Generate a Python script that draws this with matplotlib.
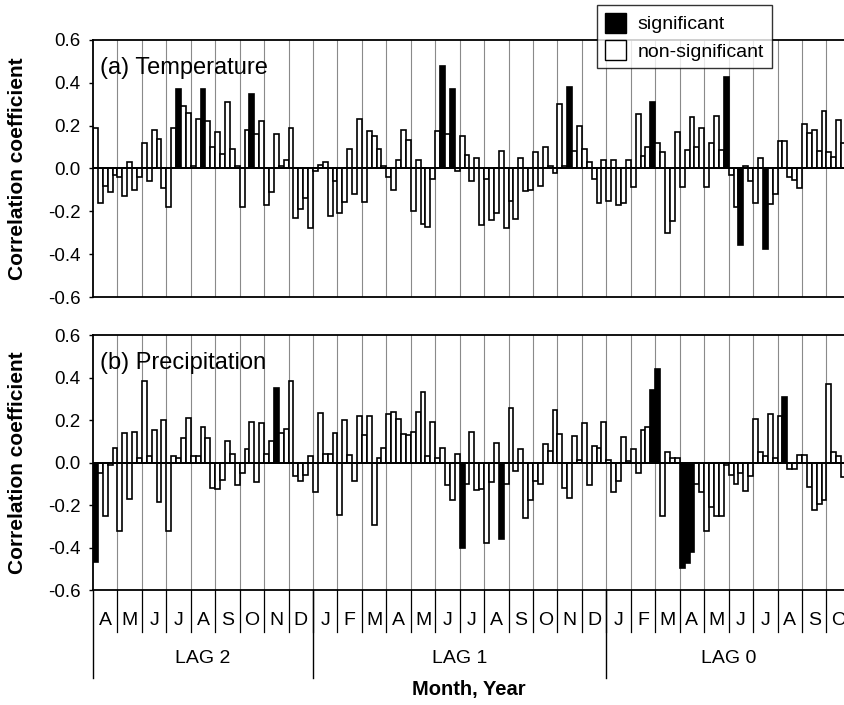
import numpy as np
import matplotlib
matplotlib.use("Agg")
import matplotlib.pyplot as plt
from matplotlib.patches import Patch

plt.rcParams['font.family'] = ['Liberation Sans', 'DejaVu Sans']

bars_per_month = 5

lag2_months = ['A', 'M', 'J', 'J', 'A', 'S', 'O', 'N', 'D']
lag1_months = ['J', 'F', 'M', 'A', 'M', 'J', 'J', 'A', 'S', 'O', 'N', 'D']
lag0_months = ['J', 'F', 'M', 'A', 'M', 'J', 'J', 'A', 'S', 'O']
lag_labels = ['LAG 2', 'LAG 1', 'LAG 0']

# correlation coefficients, 5 per month, starting April of lag 2
temp_r = [
    0.19, -0.16, -0.08, -0.11, -0.03,
    -0.04, -0.13, 0.03, -0.10, -0.04,
    0.12, -0.06, 0.18, 0.14, -0.09,
    -0.18, 0.19, 0.37, 0.29, 0.26,
    0.01, 0.23, 0.37, 0.22, 0.10,
    0.17, 0.07, 0.31, 0.09, 0.01,
    -0.18, 0.18, 0.35, 0.16, 0.22,
    -0.17, -0.11, 0.16, 0.01, 0.04,
    0.19, -0.23, -0.19, -0.14, -0.28,
    -0.01, 0.015, 0.03, -0.22, -0.06,
    -0.21, -0.155, 0.09, -0.12, 0.23,
    -0.155, 0.175, 0.15, 0.09, 0.01,
    -0.04, -0.10, 0.04, 0.18, 0.135,
    -0.20, 0.04, -0.26, -0.275, -0.05,
    0.175, 0.48, 0.16, 0.37, -0.01,
    0.15, 0.065, -0.06, 0.05, -0.265,
    -0.05, -0.24, -0.21, 0.08, -0.28,
    -0.15, -0.235, 0.05, -0.105, -0.10,
    0.075, -0.08, 0.10, 0.01, -0.02,
    0.30, 0.01, 0.38, 0.08, 0.20,
    0.09, 0.03, -0.05, -0.16, 0.04,
    -0.15, 0.04, -0.17, -0.16, 0.04,
    -0.085, 0.255, 0.06, 0.10, 0.31,
    0.12, 0.075, -0.30, -0.245, 0.17,
    -0.085, 0.085, 0.24, 0.10, 0.19,
    -0.085, 0.12, 0.245, 0.085, 0.425,
    -0.03, -0.18, -0.355, 0.01, -0.06,
    -0.16, 0.05, -0.375, -0.165, -0.12,
    0.13, 0.13, -0.04, -0.055, -0.09,
    0.21, 0.165, 0.18, 0.08, 0.27,
    0.075, 0.055, 0.225, 0.12, 0.05,
]
temp_sig = [17, 22, 32, 71, 73, 97, 114, 129, 132, 137]

prec_r = [
    -0.47, -0.05, -0.25, -0.01, 0.07,
    -0.32, 0.14, -0.17, 0.145, 0.02,
    0.385, 0.03, 0.155, -0.185, 0.20,
    -0.32, 0.03, 0.02, 0.115, 0.21,
    0.03, 0.03, 0.165, 0.115, -0.12,
    -0.125, -0.08, 0.10, 0.04, -0.105,
    -0.05, 0.065, 0.19, -0.09, 0.185,
    0.04, 0.10, 0.35, 0.14, 0.16,
    0.385, -0.065, -0.085, -0.06, 0.03,
    -0.14, 0.235, 0.04, 0.04, 0.14,
    -0.245, 0.20, 0.035, -0.085, 0.22,
    0.13, 0.22, -0.295, 0.02, 0.07,
    0.23, 0.24, 0.205, 0.135, 0.13,
    0.145, 0.24, 0.33, 0.03, 0.19,
    0.02, 0.07, -0.105, -0.175, 0.04,
    -0.40, -0.10, 0.145, -0.13, -0.125,
    -0.38, -0.09, 0.09, -0.36, -0.10,
    0.255, -0.04, 0.065, -0.26, -0.175,
    -0.085, -0.10, 0.085, 0.055, 0.245,
    0.135, -0.12, -0.165, 0.125, 0.01,
    0.185, -0.105, 0.08, 0.07, 0.19,
    0.01, -0.14, -0.085, 0.12, 0.005,
    0.065, -0.05, 0.155, 0.165, 0.34,
    0.44, -0.25, 0.05, 0.02, 0.02,
    -0.495, -0.475, -0.42, -0.10, -0.14,
    -0.32, -0.21, -0.25, -0.25, -0.01,
    -0.06, -0.10, -0.05, -0.135, -0.065,
    0.205, 0.05, 0.03, 0.23, 0.02,
    0.22, 0.31, -0.03, -0.03, 0.035,
    0.035, -0.115, -0.225, -0.195, -0.175,
    0.37, 0.05, 0.03, -0.07, 0.17,
]
prec_sig = [0, 37, 75, 83, 114, 115, 120, 121, 122, 141]

all_months = lag2_months + lag1_months + lag0_months
n_months = len(all_months)
x_right = 153.8

fig = plt.figure(figsize=(8.45, 7.05), dpi=100)
ax_a = fig.add_axes([0.110, 0.5787, 0.890, 0.3646])
ax_b = fig.add_axes([0.110, 0.1631, 0.890, 0.3617])


def draw_panel(ax, vals, sig, title):
    vals = np.array(vals)
    x = np.arange(len(vals)) + 0.5
    colors = ['white'] * len(vals)
    for i in sig:
        colors[i] = 'black'
    for m in range(1, n_months + 1):
        ax.axvline(m * bars_per_month, color='#8a8a8a', lw=0.8, zorder=0)
    ax.bar(x, vals, width=1.0, color=colors, edgecolor='black', linewidth=1.2, zorder=2)
    ax.axhline(0, color='black', lw=1.4, zorder=3)
    ax.set_xlim(0, x_right)
    ax.set_ylim(-0.6, 0.6)
    ticks = np.arange(-0.6, 0.61, 0.2)
    ax.set_yticks(ticks)
    ax.set_yticklabels(['%.1f' % v for v in ticks], fontsize=13.5)
    ax.set_xticks([])
    ax.tick_params(axis='y', direction='out', length=3, width=1, pad=6)
    for s in ['left', 'top', 'bottom']:
        ax.spines[s].set_linewidth(1.3)
    ax.spines['right'].set_visible(False)
    ax.set_ylabel('Correlation coefficient', fontsize=15, fontweight='bold')
    ax.yaxis.set_label_coords(-0.088, 0.5)
    ax.text(0.009, 0.89, title, transform=ax.transAxes, fontsize=17,
            va='center', ha='left', zorder=5)


draw_panel(ax_a, temp_r, temp_sig, '(a) Temperature')
draw_panel(ax_b, prec_r, prec_sig, '(b) Precipitation')

# month / lag annotation below the lower panel
trans = ax_b.get_xaxis_transform()
for m in range(1, n_months + 1):
    ax_b.plot([m * bars_per_month] * 2, [0, -0.165], color='black', lw=0.9,
              transform=trans, clip_on=False)
for m, lab in enumerate(all_months):
    ax_b.text((m + 0.5) * bars_per_month, -0.118, lab, transform=trans,
              ha='center', va='center', fontsize=14, clip_on=False)

groups = [lag2_months, lag1_months, lag0_months]
start = 0
for lab, g in zip(lag_labels, groups):
    ax_b.plot([start * bars_per_month] * 2, [0, -0.345], color='black', lw=1.0,
              transform=trans, clip_on=False)
    mid = (start + len(g) / 2) * bars_per_month
    ax_b.text(mid, -0.267, lab, transform=trans, ha='center', va='center',
              fontsize=14)
    start += len(g)

ax_b.text(0.5, -0.392, 'Month, Year', transform=ax_b.transAxes,
          ha='center', va='center', fontsize=14.5, fontweight='bold')

handles = [Patch(facecolor='black', edgecolor='black', label='significant'),
           Patch(facecolor='white', edgecolor='black', label='non-significant')]
leg = fig.legend(handles=handles, loc='upper left', bbox_to_anchor=(0.7065, 0.993),
                 fontsize=14, frameon=True, fancybox=False, borderpad=0.4,
                 borderaxespad=0, handlelength=1.1, handleheight=1.2,
                 handletextpad=0.6, labelspacing=0.35)
leg.get_frame().set_edgecolor('black')
leg.get_frame().set_linewidth(1.0)
leg.set_zorder(10)

fig.savefig('out.png', dpi=100)
